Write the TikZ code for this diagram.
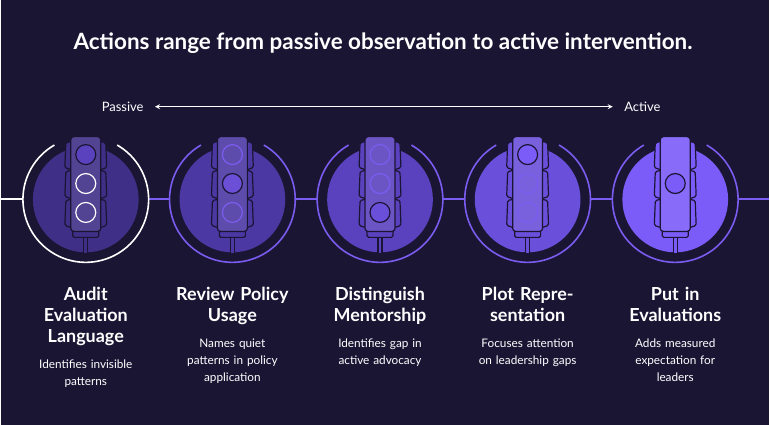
\documentclass[tikz,border=0pt]{standalone}
\usepackage{fontspec}
\setmainfont{Lato}
\definecolor{bgc}{HTML}{1B1534}
\definecolor{ringc}{HTML}{7B5CF0}
\definecolor{diskA}{HTML}{3F2F86}
\definecolor{diskB}{HTML}{4B38A2}
\definecolor{diskC}{HTML}{5A42BE}
\definecolor{diskD}{HTML}{6A4FDA}
\definecolor{diskE}{HTML}{7B5CF8}
\definecolor{litc}{HTML}{6B4FD6}
\begin{document}
\begin{tikzpicture}[x=1pt,y=-1pt,
  ttl/.style={text=white,font=\bfseries\fontsize{22.5}{26}\selectfont},
  lbl/.style={text=white,font=\fontsize{13}{15}\selectfont},
  stage/.style={text=white,font=\bfseries\fontsize{18}{21}\selectfont,align=center,text width=140pt,anchor=north},
  desc/.style={text=white,font=\fontsize{11.8}{17}\selectfont,align=center,text width=140pt,anchor=north},
  link/.style={ringc,line width=2pt},
  lamp/.style={draw=bgc,line width=1.2pt},
  lampoff/.style={line width=1.2pt}]
\fill[bgc] (0,0) rectangle (770,426);
\node[ttl] (title) at (383,43) {Actions range from passive observation to active intervention.};
\node[lbl] (passive) at (122,107) {Passive};
\node[lbl] (active) at (643,107) {Active};
\draw[white,line width=1.2pt,<->,>=stealth] ([xshift=8pt]passive.east) -- ([xshift=-8pt]active.west);
% backbone
\coordinate (left) at (0,200);
\coordinate (right) at (770,200);
\draw[white,line width=2pt] (left) -- (22,200);
\draw[link] (148,200) -- (169,200) (295,200) -- (317,200) (443,200) -- (465,200) (591,200) -- (613,200) (739,200) -- (right);
% five stages
\foreach \i/\cx/\rc/\dc in {1/85/white/diskA,2/232/ringc/diskB,3/380/ringc/diskC,4/528/ringc/diskD,5/676/ringc/diskE}{
  \fill[\dc] (\cx,200) circle (53);
  \draw[\rc,line width=1.6pt] (\cx,200) ++(-60:63) arc (-60:240:63);
  \begin{scope}[shift={(\cx-85,0)}]
    \draw[bgc,line width=1.2pt,fill=\dc] (83,236) rectangle (87,254);
    \draw[bgc,line width=1.2pt,fill=\dc,rounded corners=1.5] (72,229) rectangle (98,238);
    \foreach \vy in {142,171,200}{
      \draw[bgc,line width=1.2pt,fill=\dc,rounded corners=1.5] (70,\vy) -- (65,\vy+1) -- (64,\vy+26) -- (70,\vy+28);
      \draw[bgc,line width=1.2pt,fill=\dc,rounded corners=1.5] (100,\vy) -- (105,\vy+1) -- (106,\vy+26) -- (100,\vy+28);
    }
    \draw[bgc,line width=1.2pt,fill=\dc!90!white,rounded corners=3] (70,137) rectangle (100,232);
  \end{scope}
}
% lamps
\draw[lamp,fill=diskC] (85,155) circle (10);
\draw[lampoff,white] (85,184) circle (10) (85,213) circle (10);
\draw[lampoff,ringc] (232,155) circle (10) (232,213) circle (10);
\draw[lamp,fill=litc] (232,184) circle (10);
\draw[lampoff,ringc] (380,184) circle (10) (380,155) circle (10);
\draw[lamp,fill=diskD] (380,213) circle (10);
\draw[lamp,fill=diskE] (528,155) circle (10);
\draw[lampoff,ringc] (528,184) circle (10) (528,213) circle (10);
\draw[lamp,fill=diskE] (676,184) circle (10);
% labels
\node[stage] (s1) at (85,284) {Audit\\Evaluation\\Language};
\node[stage] (s2) at (232,284) {Review Policy\\Usage};
\node[stage] (s3) at (380,284) {Distinguish\\Mentorship};
\node[stage] (s4) at (528,284) {Plot Repre-\\sentation};
\node[stage] (s5) at (676,284) {Put in\\Evaluations};
\node[desc] (d1) at (85,357) {Identifies invisible\\patterns};
\node[desc] (d2) at (232,336) {Names quiet\\patterns in policy\\application};
\node[desc] (d3) at (380,336) {Identifies gap in\\active advocacy};
\node[desc] (d4) at (528,336) {Focuses attention\\on leadership gaps};
\node[desc] (d5) at (676,336) {Adds measured\\expectation for\\leaders};
\end{tikzpicture}
\end{document}
